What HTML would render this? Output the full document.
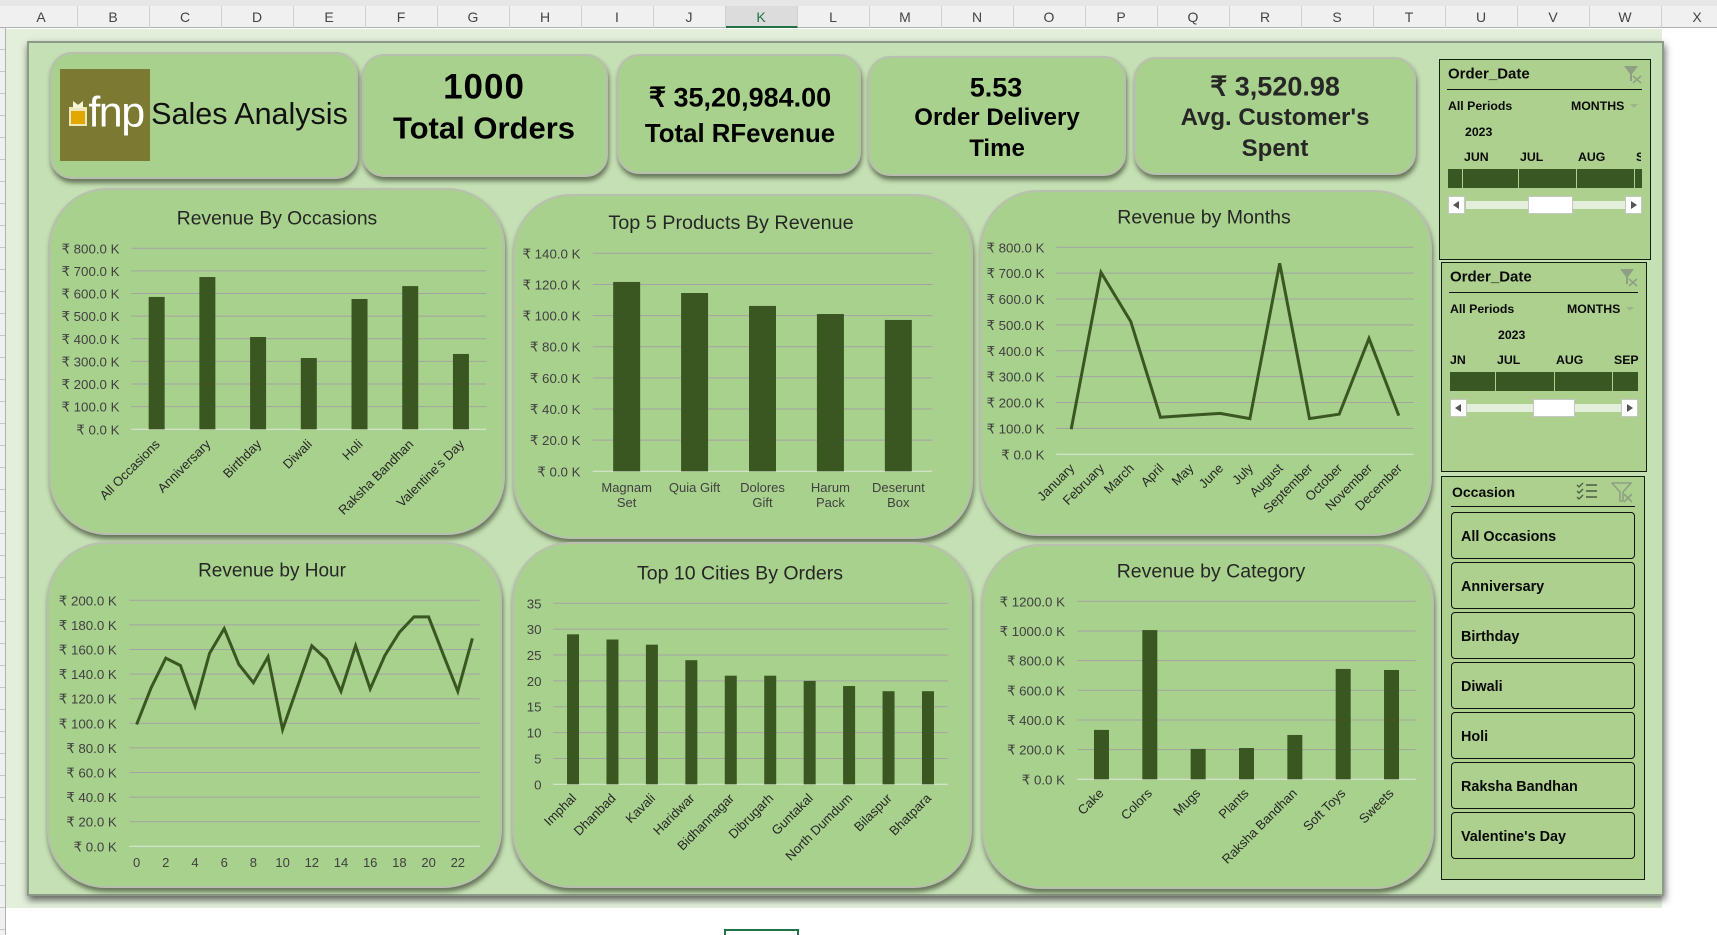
<!DOCTYPE html>
<html lang="en">
<head>
<meta charset="utf-8">
<title>Sales Analysis Dashboard</title>
<style>
html,body{margin:0;padding:0;background:#fff;width:1717px;height:935px;overflow:hidden;}
body{position:relative;font-family:"Liberation Sans",sans-serif;color:#000;}
div,svg{box-sizing:border-box;}
.abs{position:absolute;}
.t{position:absolute;white-space:nowrap;transform:translate(-50%,-50%);line-height:1;}
.l{position:absolute;white-space:nowrap;transform:translateY(-50%);line-height:1;}
.card{position:absolute;background:#a9d18e;border:2px solid #b8bfae;box-shadow:1px 4px 5px rgba(50,60,40,.65);}
.chart{border-radius:58px;}
.kpi{border-radius:22px;}
.title{font-size:19px;color:#262626;}
.slicer{position:absolute;background:#add08f;border:1.5px solid #10200a;}
.sl-title{font-size:15px;font-weight:700;color:#0a0a0a;}
.sl-sm{font-size:12.3px;font-weight:700;color:#0a0a0a;}
.sl-line{position:absolute;height:1px;background:#111;}
.seg{position:absolute;background:#385723;}
.track{position:absolute;background:#e3efdb;}
.btn{position:absolute;background:#fff;border:1px solid #c6c6c6;}
.thumb{position:absolute;background:#fff;border:1px solid #c6c6c6;}
.arrow-l,.arrow-r{position:absolute;top:4px;width:0;height:0;border-top:4.5px solid transparent;border-bottom:4.5px solid transparent;}
.arrow-l{left:4px;border-right:6px solid #555;}
.arrow-r{left:5px;border-left:6px solid #555;}
.occ{position:absolute;left:1451px;width:184px;height:47px;background:#add08f;border:1px solid #111;border-radius:4px;font-size:14.4px;font-weight:700;color:#0a0a0a;line-height:49px;padding-left:9px;white-space:nowrap;}
#cols{position:absolute;left:5.5px;top:6px;height:22px;display:flex;}
#cols div{flex:0 0 72px;width:72px;height:22px;text-align:center;font-size:14px;line-height:22px;color:#444;border-right:1px solid #d0d0d0;}
#cols div.sel{background:#dcdcdc;border-bottom:2px solid #217346;color:#217346;}
svg text{font-family:"Liberation Sans",sans-serif;}
</style>
</head>
<body>

<div class="abs" style="left:0;top:0;width:1717px;height:6px;background:#e6e6e6;"></div>
<div class="abs" style="left:0;top:6px;width:1717px;height:22px;background:#f0f0f0;border-bottom:1px solid #b0b0b0;"></div>
<div id="cols">
<div>A</div><div>B</div><div>C</div><div>D</div><div>E</div><div>F</div><div>G</div><div>H</div><div>I</div><div>J</div><div class="sel">K</div><div>L</div><div>M</div><div>N</div><div>O</div><div>P</div><div>Q</div><div>R</div><div>S</div><div>T</div><div>U</div><div>V</div><div>W</div><div>X</div>
</div>
<div class="abs" style="left:0;top:28px;width:6px;height:907px;background:repeating-linear-gradient(#f0f0f0 0,#f0f0f0 21px,#c8c8c8 21px,#c8c8c8 22px);border-right:1px solid #b0b0b0;"></div>
<div class="abs" style="left:6px;top:29px;width:1656px;height:879px;background:#e3efdb;"></div>
<div class="abs" style="left:724px;top:929px;width:75px;height:6px;border:2px solid #217346;border-bottom:0;background:#fff;"></div>

<div class="abs" style="left:27px;top:41px;width:1637px;height:855px;background:#c5e0b4;border:2px solid #8e9a88;box-shadow:1px 4px 7px rgba(50,50,50,.75);"></div>

<!-- KPI cards -->
<div class="card kpi" style="left:50px;top:52px;width:308px;height:127px;"></div>
<div class="abs" style="left:60px;top:69px;width:90px;height:92px;background:#7c7a32;">
  <div class="abs" style="left:9px;top:38px;width:18px;height:19px;background:#e0a800;border:2px solid #efe7b8;border-top-width:4px;"></div>
  <div class="abs" style="left:13px;top:32px;width:10px;height:7px;background:#f7f3d8;clip-path:polygon(0 0,50% 55%,100% 0,100% 100%,0 100%);"></div>
  <div class="t" style="left:56px;top:44px;font-size:43px;color:#fff;letter-spacing:-1.5px;">fnp</div>
</div>
<div class="t" style="left:249.5px;top:114px;font-size:30.5px;color:#111;">Sales Analysis</div>

<div class="card kpi" style="left:362px;top:54px;width:246px;height:123px;"></div>
<div class="t" style="left:484px;top:87px;font-size:35px;font-weight:700;letter-spacing:1px;">1000</div>
<div class="t" style="left:484px;top:128px;font-size:31px;font-weight:700;">Total Orders</div>

<div class="card kpi" style="left:617px;top:54px;width:244px;height:120px;"></div>
<div class="t" style="left:740px;top:98px;font-size:27px;font-weight:700;">₹ 35,20,984.00</div>
<div class="t" style="left:740px;top:135px;font-size:25.8px;font-weight:700;">Total RFevenue</div>

<div class="card kpi" style="left:868px;top:56px;width:258px;height:120px;"></div>
<div class="t" style="left:996px;top:88px;font-size:27px;font-weight:700;">5.53</div>
<div class="t" style="left:997px;top:118px;font-size:24px;font-weight:700;">Order Delivery</div>
<div class="t" style="left:997px;top:149px;font-size:24px;font-weight:700;">Time</div>

<div class="card kpi" style="left:1134px;top:57px;width:282px;height:118px;"></div>
<div class="t" style="left:1275px;top:87px;font-size:27px;font-weight:700;color:#262626;">₹ 3,520.98</div>
<div class="t" style="left:1275px;top:118px;font-size:24px;font-weight:700;color:#262626;">Avg. Customer's</div>
<div class="t" style="left:1275px;top:149px;font-size:24px;font-weight:700;color:#262626;">Spent</div>

<!-- Chart cards -->
<div class="card chart" style="left:49px;top:188px;width:456px;height:347px;"></div>
<div class="t title" style="left:277px;top:219px;font-size:19.3px;">Revenue By Occasions</div>

<div class="card chart" style="left:513px;top:194px;width:460px;height:345px;"></div>
<div class="t title" style="left:731px;top:224px;font-size:19.8px;">Top 5 Products By Revenue</div>

<div class="card chart" style="left:980px;top:190px;width:452px;height:346px;"></div>
<div class="t title" style="left:1204px;top:218px;font-size:19.5px;">Revenue by Months</div>

<div class="card chart" style="left:47px;top:542px;width:455px;height:346px;"></div>
<div class="t title" style="left:272px;top:571px;">Revenue by Hour</div>

<div class="card chart" style="left:512px;top:542px;width:460px;height:346px;"></div>
<div class="t title" style="left:740px;top:574px;font-size:19.5px;">Top 10 Cities By Orders</div>

<div class="card chart" style="left:982px;top:544px;width:452px;height:345px;"></div>
<div class="t title" style="left:1211px;top:572px;font-size:19.5px;">Revenue by Category</div>

<svg id="chart-occasion" class="abs" width="1717" height="935" style="left:0;top:0;"></svg>
<svg id="chart-products" class="abs" width="1717" height="935" style="left:0;top:0;"></svg>
<svg id="chart-months" class="abs" width="1717" height="935" style="left:0;top:0;"></svg>
<svg id="chart-hours" class="abs" width="1717" height="935" style="left:0;top:0;"></svg>
<svg id="chart-cities" class="abs" width="1717" height="935" style="left:0;top:0;"></svg>
<svg id="chart-category" class="abs" width="1717" height="935" style="left:0;top:0;"></svg>

<!-- Slicer 1 -->
<div class="slicer" style="left:1439px;top:59px;width:212px;height:201px;"></div>
<div class="l sl-title" style="left:1448px;top:74px;">Order_Date</div>
<svg class="abs" style="left:1623px;top:65px;" width="20" height="20"><polygon points="1,1 15,1 9,9 9,16 7,16 7,9" fill="#8f9f85"/><path d="M10 11l8 7M18 11l-8 7" stroke="#8f9f85" stroke-width="1.5"/></svg>
<div class="sl-line" style="left:1447px;top:89px;width:195px;"></div>
<div class="l sl-sm" style="left:1448px;top:106px;">All Periods</div>
<div class="l sl-sm" style="left:1571px;top:106px;">MONTHS</div>
<div class="abs" style="left:1630px;top:104px;width:0;height:0;border-left:4px solid transparent;border-right:4px solid transparent;border-top:4px solid #9db58c;"></div>
<div class="l sl-sm" style="left:1465px;top:132px;">2023</div>
<div class="l sl-sm" style="left:1464px;top:157px;">JUN</div>
<div class="l sl-sm" style="left:1520px;top:157px;">JUL</div>
<div class="l sl-sm" style="left:1578px;top:157px;">AUG</div>
<div class="abs" style="left:1636px;top:150px;width:5px;height:14px;overflow:hidden;"><div class="sl-sm" style="white-space:nowrap;line-height:14px;">SEP</div></div>
<div class="seg" style="left:1448px;top:169px;width:14px;height:19px;"></div>
<div class="seg" style="left:1463px;top:169px;width:55px;height:19px;"></div>
<div class="seg" style="left:1519px;top:169px;width:57px;height:19px;"></div>
<div class="seg" style="left:1577px;top:169px;width:57px;height:19px;"></div>
<div class="seg" style="left:1635px;top:169px;width:7px;height:19px;"></div>
<div class="track" style="left:1466px;top:201px;width:159px;height:8px;"></div>
<div class="btn" style="left:1448px;top:196px;width:17px;height:18px;"><div class="arrow-l"></div></div>
<div class="thumb" style="left:1528px;top:196px;width:45px;height:18px;"></div>
<div class="btn" style="left:1625px;top:196px;width:17px;height:18px;"><div class="arrow-r"></div></div>

<!-- Slicer 2 -->
<div class="slicer" style="left:1441px;top:262px;width:206px;height:210px;"></div>
<div class="l sl-title" style="left:1450px;top:277px;">Order_Date</div>
<svg class="abs" style="left:1619px;top:268px;" width="20" height="20"><polygon points="1,1 15,1 9,9 9,16 7,16 7,9" fill="#8f9f85"/><path d="M10 11l8 7M18 11l-8 7" stroke="#8f9f85" stroke-width="1.5"/></svg>
<div class="sl-line" style="left:1449px;top:292px;width:189px;"></div>
<div class="l sl-sm" style="left:1450px;top:309px;">All Periods</div>
<div class="l sl-sm" style="left:1567px;top:309px;">MONTHS</div>
<div class="abs" style="left:1626px;top:307px;width:0;height:0;border-left:4px solid transparent;border-right:4px solid transparent;border-top:4px solid #9db58c;"></div>
<div class="l sl-sm" style="left:1498px;top:335px;">2023</div>
<div class="l sl-sm" style="left:1450px;top:360px;">JN</div>
<div class="l sl-sm" style="left:1497px;top:360px;">JUL</div>
<div class="l sl-sm" style="left:1556px;top:360px;">AUG</div>
<div class="l sl-sm" style="left:1614px;top:360px;">SEP</div>
<div class="seg" style="left:1450px;top:372px;width:45px;height:19px;"></div>
<div class="seg" style="left:1496px;top:372px;width:58px;height:19px;"></div>
<div class="seg" style="left:1555px;top:372px;width:57px;height:19px;"></div>
<div class="seg" style="left:1613px;top:372px;width:25px;height:19px;"></div>
<div class="track" style="left:1467px;top:404px;width:154px;height:8px;"></div>
<div class="btn" style="left:1450px;top:399px;width:17px;height:18px;"><div class="arrow-l"></div></div>
<div class="thumb" style="left:1533px;top:399px;width:42px;height:18px;"></div>
<div class="btn" style="left:1621px;top:399px;width:17px;height:18px;"><div class="arrow-r"></div></div>

<!-- Slicer 3 -->
<div class="slicer" style="left:1441px;top:476px;width:204px;height:404px;"></div>
<div class="l sl-title" style="left:1452px;top:492px;font-size:14px;">Occasion</div>
<svg class="abs" style="left:1576px;top:482px;" width="22" height="19"><path d="M1 3l2 2 4-4M1 9l2 2 4-4M1 15l2 2 4-4" stroke="#4b5a40" fill="none" stroke-width="1.3"/><path d="M10 3h11M10 9h11M10 15h11" stroke="#4b5a40" stroke-width="1.5"/></svg>
<svg class="abs" style="left:1611px;top:481px;" width="23" height="22"><polygon points="1,2 20,2 12,11 12,20 9,20 9,11" fill="none" stroke="#8f9f85" stroke-width="1.6"/><path d="M13 13l8 8M21 13l-8 8" stroke="#8f9f85" stroke-width="1.6"/></svg>
<div class="sl-line" style="left:1451px;top:506px;width:184px;"></div>
<div class="occ" style="top:512px;">All Occasions</div>
<div class="occ" style="top:562px;">Anniversary</div>
<div class="occ" style="top:612px;">Birthday</div>
<div class="occ" style="top:662px;">Diwali</div>
<div class="occ" style="top:712px;">Holi</div>
<div class="occ" style="top:762px;">Raksha Bandhan</div>
<div class="occ" style="top:812px;">Valentine's Day</div>

<script>
// Chart data (revenue in thousands of rupees unless noted)
const occasionCategories = ["All Occasions","Anniversary","Birthday","Diwali","Holi","Raksha Bandhan","Valentine's Day"];
const occasionValues = [585,673,408,315,576,633,333];
const occasionTicks = [0,100,200,300,400,500,600,700,800];

const productCategories = ["Magnam Set","Quia Gift","Dolores Gift","Harum Pack","Deserunt Box"];
const productValues = [121.6,114.5,106.2,101,97.2];
const productTicks = [0,20,40,60,80,100,120,140];

const monthCategories = ["January","February","March","April","May","June","July","August","September","October","November","December"];
const monthValues = [97,703,513,143,151,158,138,738,138,155,448,149];
const monthTicks = [0,100,200,300,400,500,600,700,800];

const hourCategories = [0,1,2,3,4,5,6,7,8,9,10,11,12,13,14,15,16,17,18,19,20,21,22,23];
const hourValues = [99,129,153,147,114,157,177,148,133,154,95,129,163,152,126,163,128,155,174,186.5,186.5,156,126,169];
const hourTicks = [0,20,40,60,80,100,120,140,160,180,200];

const cityCategories = ["Imphal","Dhanbad","Kavali","Haridwar","Bidhannagar","Dibrugarh","Guntakal","North Dumdum","Bilaspur","Bhatpara"];
const cityValues = [29,28,27,24,21,21,20,19,18,18];
const cityTicks = [0,5,10,15,20,25,30,35];

const categoryNames = ["Cake","Colors","Mugs","Plants","Raksha Bandhan","Soft Toys","Sweets"];
const categoryValues = [333,1006,205,211,299,744,737];
const categoryTicks = [0,200,400,600,800,1000,1200];

const NS = "http://www.w3.org/2000/svg";
function rupeeK(v){ return "₹ " + v.toFixed(1) + " K"; }
function plain(v){ return String(v); }
function slug(s){ return String(s).toLowerCase().replace(/[^a-z0-9]+/g,"-"); }
function mk(svg, tag, attrs, text){
  const el = document.createElementNS(NS, tag);
  for (const k in attrs) el.setAttribute(k, attrs[k]);
  if (text !== undefined) el.textContent = text;
  svg.appendChild(el);
  return el;
}

function drawChart(id, box, categories, values, ticks, fmt, kind, labelMode){
  const svg = document.getElementById(id);
  const maxV = ticks[ticks.length - 1];
  const band = (box.right - box.left) / categories.length;
  const xScale = i => box.left + (i + 0.5) * band;
  const yScale = v => box.bottom - (v / maxV) * (box.bottom - box.top);

  ticks.forEach(t => {
    const y = yScale(t);
    const grid = mk(svg, "line", {x1:box.left, x2:box.right, y1:y, y2:y, stroke: t === 0 ? "#dfe8d8" : "#a3a3a3", "stroke-width":1});
    
    
    const lab = mk(svg, "text", {x:box.tickX, y:y + 5, "text-anchor":"end", "font-size":13.3, fill:"#404040"}, fmt(t));
    
    
  });

  if (kind === "bar") {
    values.forEach((v, i) => {
      const y = yScale(v);
      const bar = mk(svg, "rect", {x:xScale(i) - box.barW / 2, y:y, width:box.barW, height:box.bottom - y, fill:"#3a5722"});
      
      
    });
  } else {
    const d = values.map((v, i) => (i ? "L" : "M") + xScale(i).toFixed(1) + " " + yScale(v).toFixed(1)).join(" ");
    const line = mk(svg, "path", {d:d, fill:"none", stroke:"#3a5722", "stroke-width":3, "stroke-linejoin":"miter"});
    
    
  }

  categories.forEach((c, i) => {
    const x = xScale(i);
    if (labelMode === "rotate") {
      const lab = mk(svg, "text", {x:0, y:0, "text-anchor":"end", "font-size":13, fill:"#262626", transform:"translate(" + (x + box.labelDx) + " " + (box.labelY) + ") rotate(-45)"}, c);
      
      
    } else if (labelMode === "wrap") {
      const s = String(c);
      const lines = s.length > 9 ? s.split(" ") : [s];
      lines.forEach((ln, j) => {
        const lab = mk(svg, "text", {x:x, y:box.labelY + j * 15, "text-anchor":"middle", "font-size":13, fill:"#404040"}, ln);
        
        
      });
    } else if (i % 2 === 0) {
      const lab = mk(svg, "text", {x:x, y:box.labelY, "text-anchor":"middle", "font-size":13, fill:"#404040"}, c);
      
      
    }
  });
}

drawChart("chart-occasion", {left:131.3,right:486.3,top:248.3,bottom:429.3,tickX:119.5,barW:16,labelY:445,labelDx:4}, occasionCategories, occasionValues, occasionTicks, rupeeK, "bar", "rotate");
drawChart("chart-products", {left:592.7,right:932.3,top:253.3,bottom:471.3,tickX:580.5,barW:27,labelY:492}, productCategories, productValues, productTicks, rupeeK, "bar", "wrap");
drawChart("chart-months", {left:1056.3,right:1413.7,top:247.3,bottom:454.3,tickX:1044.5,labelY:469,labelDx:4}, monthCategories, monthValues, monthTicks, rupeeK, "line", "rotate");
drawChart("chart-hours", {left:129.3,right:479.7,top:600.3,bottom:846.3,tickX:116.8,labelY:867}, hourCategories, hourValues, hourTicks, rupeeK, "line", "alternate");
drawChart("chart-cities", {left:553.3,right:947.7,top:603.3,bottom:784.3,tickX:541.5,barW:12,labelY:799,labelDx:4}, cityCategories, cityValues, cityTicks, plain, "bar", "rotate");
drawChart("chart-category", {left:1077.3,right:1415.7,top:601.3,bottom:779.3,tickX:1065,barW:15,labelY:794,labelDx:3}, categoryNames, categoryValues, categoryTicks, rupeeK, "bar", "rotate");
</script>
</body>
</html>
